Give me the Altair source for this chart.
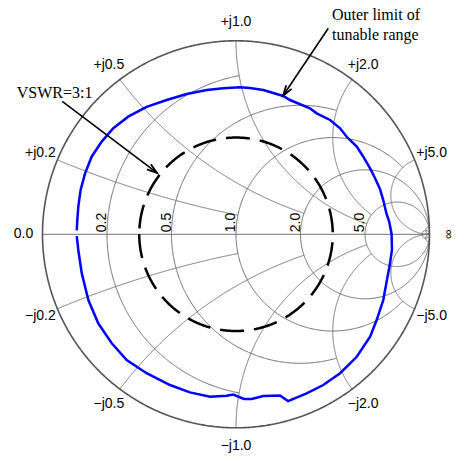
import numpy as np
import pandas as pd
import altair as alt

alt.data_transformers.disable_max_rows()

# ---------------- data (reflection-coefficient plane) ----------------
# Outer limit of tunable range (Gamma real / imag)
tune_re = [-0.823, -0.820, -0.815, -0.803, -0.780, -0.746, -0.694, -0.634, -0.557, -0.462,
           -0.358, -0.255, -0.151, -0.066, 0.021, 0.072, 0.141, 0.244, 0.279, 0.382,
           0.417, 0.486, 0.538, 0.572, 0.624, 0.658, 0.693, 0.718, 0.744, 0.761,
           0.777, 0.792, 0.804, 0.806, 0.796, 0.779, 0.761, 0.727, 0.693, 0.624,
           0.538, 0.451, 0.365, 0.269, 0.227, 0.141, 0.081, 0.041, -0.014, -0.048,
           -0.134, -0.238, -0.341, -0.462, -0.565, -0.642, -0.712, -0.763, -0.797, -0.815,
           -0.823]
tune_im = [0.020, 0.074, 0.143, 0.229, 0.315, 0.401, 0.479, 0.548, 0.608, 0.659,
           0.694, 0.725, 0.746, 0.755, 0.760, 0.756, 0.746, 0.715, 0.694, 0.651,
           0.625, 0.591, 0.548, 0.504, 0.453, 0.401, 0.341, 0.291, 0.234, 0.177,
           0.109, 0.064, 0.002, -0.081, -0.150, -0.241, -0.340, -0.443, -0.529, -0.633,
           -0.718, -0.779, -0.822, -0.862, -0.833, -0.836, -0.851, -0.851, -0.828, -0.834,
           -0.839, -0.817, -0.779, -0.718, -0.650, -0.563, -0.460, -0.340, -0.202, -0.081,
           -0.009]

vswr_value = 3.0

# Smith-chart grid values and how far each grid curve runs
r_ticks = [0.2, 0.5, 1.0, 2.0, 5.0]
r_tick_labels = ["0.2", "0.5", "1.0", "2.0", "5.0"]
r_clip_x = [1.0, 2.0, 5.0, np.inf, np.inf]      # resistance circle drawn for |x| <= this
x_ticks = [0.2, 0.5, 1.0, 2.0, 5.0]
x_pos_labels = ["+j0.2", "+j0.5", "+j1.0", "+j2.0", "+j5.0"]
x_neg_labels = ["\u2212j0.2", "\u2212j0.5", "\u2212j1.0", "\u2212j2.0", "\u2212j5.0"]
x_clip_r = [1.0, 2.0, 5.0, 5.0, np.inf]          # reactance arc drawn for r <= this
fine_r = [50.0]
fine_x = [50.0]

# annotations
ann_text = ["Outer limit of", "tunable range", "VSWR=3:1"]
ann_re = [0.496, 0.496, -1.133]
ann_im = [1.1075, 1.0065, 0.704]
arrow_start_re = [0.477, -0.898]
arrow_start_im = [1.065, 0.687]
arrow_end_re = [0.244, -0.408]
arrow_end_im = [0.717, 0.317]

# ---------------- geometry helpers ----------------
def z2g(z):
    return (z - 1) / (z + 1)

N = 400
rows = []
gid = 0

def add_curve(g, kind):
    global gid
    for k, v in enumerate(g):
        rows.append({"gr": float(v.real), "gi": float(v.imag), "id": gid, "ord": k, "kind": kind})
    gid += 1

# resistance circles
for r, xl in list(zip(r_ticks, r_clip_x)) + [(fr, np.inf) for fr in fine_r]:
    c = r / (1 + r)
    rho = 1 / (1 + r)
    if np.isinf(xl):
        phi_l = 0.0
    else:
        phi_l = np.angle(z2g(r + 1j * xl) - c)
    phi = np.linspace(phi_l, 2 * np.pi - phi_l, N)
    add_curve(c + rho * np.exp(1j * phi), "grid")

# reactance arcs
for xv, rl in list(zip(x_ticks, x_clip_r)) + [(fx, np.inf) for fx in fine_x]:
    c = 1 + 1j / xv
    rho = 1 / xv
    g0 = z2g(1j * xv)
    g1 = 1.0 + 0j if np.isinf(rl) else z2g(rl + 1j * xv)
    p0 = np.mod(np.angle(g0 - c), 2 * np.pi)
    p1 = np.mod(np.angle(g1 - c), 2 * np.pi)
    psi = np.linspace(p0, p1, N)
    arc = c + rho * np.exp(1j * psi)
    add_curve(arc, "grid")
    add_curve(np.conj(arc), "grid")

# real axis
add_curve(np.array([-1 + 0j, 1 + 0j]), "grid")
# outer circle (r = 0)
add_curve(np.exp(1j * np.linspace(0, 2 * np.pi, 721)), "outer")

grid_df = pd.DataFrame(rows)

# VSWR circle
g_vswr = (vswr_value - 1) / (vswr_value + 1)
th = np.linspace(np.pi, 3 * np.pi, 721)
vswr_df = pd.DataFrame({"gr": g_vswr * np.cos(th), "gi": g_vswr * np.sin(th), "ord": np.arange(len(th))})

tune_df = pd.DataFrame({"gr": tune_re, "gi": tune_im, "ord": range(len(tune_re))})

# labels
lab_rows = []
for xv, lp, ln in zip(x_ticks, x_pos_labels, x_neg_labels):
    g = 1.095 * z2g(1j * xv)
    lab_rows.append({"gr": g.real, "gi": g.imag, "text": lp})
    lab_rows.append({"gr": g.real, "gi": -g.imag, "text": ln})
lab_rows.append({"gr": -1.098, "gi": 0.0, "text": "0.0"})
lab_df = pd.DataFrame(lab_rows)
inf_df = pd.DataFrame({"gr": [1.101], "gi": [0.0], "text": ["\u221e"]})

rlab_df = pd.DataFrame({"gr": [(r - 1) / (r + 1) for r in r_ticks],
                        "gi": [0.0] * len(r_ticks), "text": r_tick_labels})

ann_df = pd.DataFrame({"gr": ann_re, "gi": ann_im, "text": ann_text})

arr_rows = []
head_rows = []
for i in range(len(arrow_start_re)):
    arr_rows.append({"gr": arrow_start_re[i], "gi": arrow_start_im[i], "id": i, "ord": 0})
    arr_rows.append({"gr": arrow_end_re[i], "gi": arrow_end_im[i], "id": i, "ord": 1})
    dx = arrow_end_re[i] - arrow_start_re[i]
    dy = -(arrow_end_im[i] - arrow_start_im[i])
    ang = np.degrees(np.arctan2(dx, -dy)) % 360
    head_rows.append({"gr": arrow_end_re[i], "gi": arrow_end_im[i], "ang": float(ang)})
arr_df = pd.DataFrame(arr_rows)
head_df = pd.DataFrame(head_rows)

# ---------------- scales ----------------
PX = 193.5
W, H = 447, 448
cx, cy = 228.0, 226.3
xdom = [-cx / PX, (W - cx) / PX]
ydom = [-(H - cy) / PX, cy / PX]
X = alt.X("gr:Q", scale=alt.Scale(domain=xdom, nice=False, zero=False), axis=None)
Y = alt.Y("gi:Q", scale=alt.Scale(domain=ydom, nice=False, zero=False), axis=None)

grid = alt.Chart(grid_df).transform_filter("datum.kind == 'grid'").mark_line(
    color="#727272", strokeWidth=1).encode(X, Y, detail="id:N", order="ord:Q")
outer = alt.Chart(grid_df).transform_filter("datum.kind == 'outer'").mark_line(
    color="#555555", strokeWidth=1.6).encode(X, Y, order="ord:Q")
vswr = alt.Chart(vswr_df).mark_line(color="black", strokeWidth=2.5, strokeDash=[24, 10]).encode(
    X, Y, order="ord:Q")
tune = alt.Chart(tune_df).mark_line(color="#0000ff", strokeWidth=2.5).encode(X, Y, order="ord:Q")

arrows = alt.Chart(arr_df).mark_line(color="black", strokeWidth=1.6).encode(
    X, Y, detail="id:N", order="ord:Q")
heads = alt.Chart(head_df).mark_point(
    shape="M-0.32,1L0,0L0.32,1", filled=False, color="black", strokeWidth=1.8, size=420, opacity=1
).encode(X, Y, angle=alt.Angle("ang:Q", scale=None))

labels = alt.Chart(lab_df).mark_text(
    font="Liberation Sans", fontSize=14, color="black", align="center", baseline="middle"
).encode(X, Y, text="text:N")
inf_lab = alt.Chart(inf_df).mark_text(
    font="Liberation Sans", fontSize=13, color="black", align="center", baseline="middle", angle=90
).encode(X, Y, text="text:N")
rlabels = alt.Chart(rlab_df).mark_text(
    font="Liberation Sans", fontSize=14, color="black", align="left", baseline="alphabetic",
    angle=270, dx=2, dy=-1
).encode(X, Y, text="text:N")
ann = alt.Chart(ann_df).mark_text(
    font="Liberation Serif", fontSize=16, color="black", align="left", baseline="alphabetic"
).encode(X, Y, text="text:N")

chart = alt.layer(grid, outer, vswr, tune, arrows, heads, labels, inf_lab, rlabels, ann).properties(
    width=W, height=H, padding=0, autosize=alt.AutoSizeParams(type="none"), background="white"
).configure_view(stroke=None)

chart.save("out.html", embed_options={"renderer": "svg", "actions": False})
